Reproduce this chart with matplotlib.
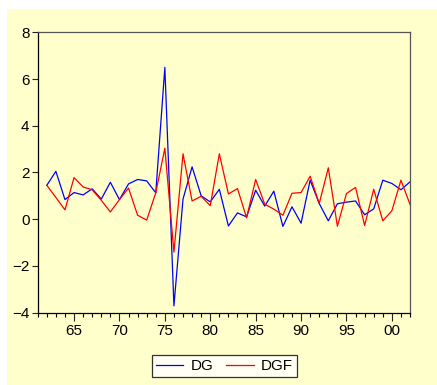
import matplotlib
matplotlib.use('Agg')
import matplotlib.pyplot as plt
from matplotlib.patches import Rectangle
from matplotlib.ticker import MultipleLocator, FuncFormatter

plt.rcParams['font.family'] = ['Liberation Sans', 'DejaVu Sans']

years = list(range(1962, 2003))
DG = [1.45, 2.05, 0.84, 1.14, 1.04, 1.30, 0.86, 1.58, 0.84, 1.51,
      1.70, 1.64, 1.13, 6.50, -3.71, 0.86, 2.24, 1.00, 0.74, 1.28,
      -0.29, 0.27, 0.10, 1.24, 0.56, 1.20, -0.31, 0.53, -0.17, 1.67,
      0.67, -0.07, 0.66, 0.73, 0.78, 0.19, 0.44, 1.67, 1.53, 1.26, 1.60]
DGF = [1.45, 0.93, 0.40, 1.78, 1.38, 1.26, 0.81, 0.31, 0.84, 1.33,
       0.17, -0.04, 1.13, 3.04, -1.41, 2.80, 0.78, 0.98, 0.58, 2.80,
       1.08, 1.31, 0.06, 1.70, 0.64, 0.43, 0.17, 1.11, 1.14, 1.84,
       0.67, 2.20, -0.30, 1.10, 1.36, -0.27, 1.28, -0.07, 0.36, 1.67, 0.63]

bg = '#ffffcc'
fig = plt.figure(figsize=(4.37, 3.85), dpi=100)
fig.patch.set_facecolor('white')
panel = Rectangle((7 / 437, 0), 1, 1 - 9 / 385, transform=fig.transFigure,
                  facecolor=bg, edgecolor='none', zorder=-10)
fig.add_artist(panel)

ax = fig.add_axes([0.0863, 0.188, 0.852, 0.728])
ax.set_facecolor(bg)
ax.plot(years, DG, color='#0000ff', linewidth=0.9, label='DG')
ax.plot(years, DGF, color='#ff0000', linewidth=0.9, label='DGF')

ax.set_xlim(1961, 2002)
ax.set_ylim(-4, 8)
ax.yaxis.set_major_locator(MultipleLocator(2))
ax.xaxis.set_major_locator(MultipleLocator(5))
ax.xaxis.set_minor_locator(MultipleLocator(1))
ax.xaxis.set_major_formatter(FuncFormatter(lambda v, p: '%02d' % (int(v) % 100)))
ax.tick_params(axis='both', direction='out', labelsize=11, colors='#222222', width=0.8)
ax.tick_params(axis='x', which='major', length=6, pad=2)
ax.tick_params(axis='x', which='minor', length=3, width=0.8)
ax.tick_params(axis='y', length=4, pad=2)
ax.tick_params(labelcolor='black')

for side in ['left', 'bottom']:
    ax.spines[side].set_color('black')
for side in ['top', 'right']:
    ax.spines[side].set_color('#555555')
for s in ax.spines.values():
    s.set_linewidth(0.9)

leg = fig.legend(loc='center', bbox_to_anchor=(0.514, 0.049), ncol=2, fontsize=11,
                 frameon=True, fancybox=False, handlelength=1.8, columnspacing=0.8,
                 handletextpad=0.5, borderpad=0.25, borderaxespad=0)
leg.get_frame().set_edgecolor('black')
leg.get_frame().set_facecolor('white')
leg.get_frame().set_linewidth(0.9)

fig.savefig('out.png', dpi=100)
